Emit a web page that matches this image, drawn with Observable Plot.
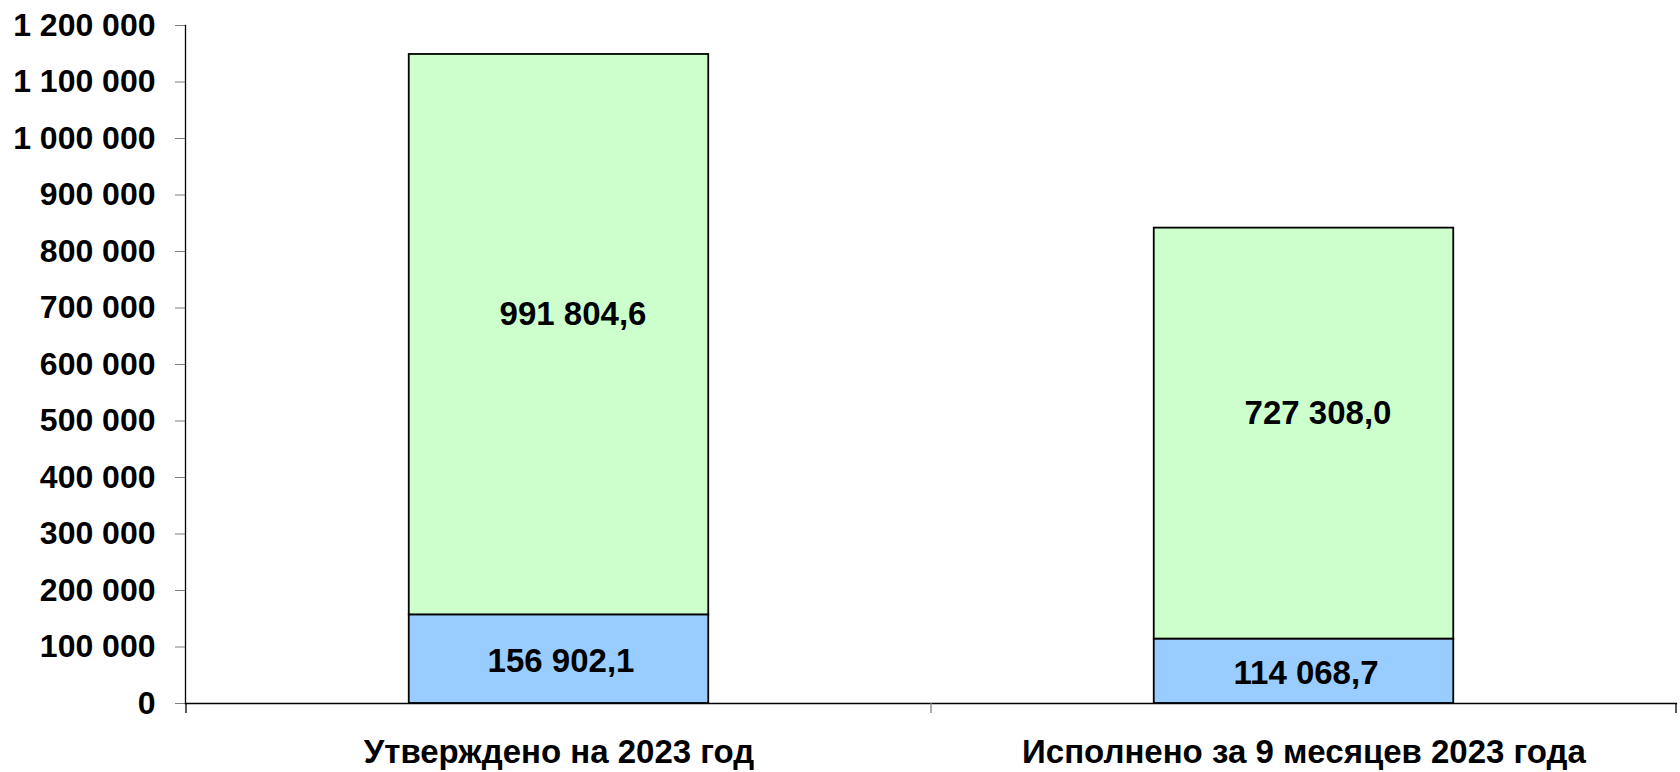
<!DOCTYPE html>
<html>
<head>
<meta charset="utf-8">
<script src="https://cdn.jsdelivr.net/npm/d3@7"></script>
<script src="https://cdn.jsdelivr.net/npm/@observablehq/plot@0.6"></script>
<style>
  html, body { margin: 0; padding: 0; background: #fff; }
  #chart { width: 1680px; height: 772px; }
  svg { font-family: "Liberation Sans", Arial, sans-serif; }
</style>
</head>
<body>
<div id="chart"></div>
<script>
const categories = ["Утверждено на 2023 год", "Исполнено за 9 месяцев 2023 года"];
const seriesNames = ["part1", "part2"];
const part1Values = [156902.1, 114068.7];
const part2Values = [991804.6, 727308.0];
const yTicks = [0, 100000, 200000, 300000, 400000, 500000, 600000, 700000, 800000, 900000, 1000000, 1100000, 1200000];

const seriesColors = {part1: "#99CCFF", part2: "#CCFFCC"};

const data = [];
categories.forEach((c, i) => {
  data.push({cat: c, series: seriesNames[0], value: part1Values[i]});
  data.push({cat: c, series: seriesNames[1], value: part2Values[i]});
});

const loc = d3.formatLocale({decimal: ",", thousands: "\u00a0", grouping: [3], currency: ["", ""]});
const fmtTick = loc.format(",.0f");
const fmtVal = loc.format(",.1f");

const W = 1680, H = 772;
const mL = 185, mR = 4, mT = 25, mB = 69;
const barWidth = 300;
const stepW = (W - mL - mR) / categories.length;
const inset = (stepW - barWidth) / 2;

const chart = Plot.plot({
  width: W,
  height: H,
  marginLeft: mL,
  marginRight: mR,
  marginTop: mT,
  marginBottom: mB,
  style: {fontFamily: "'Liberation Sans', Arial, sans-serif", background: "#fff"},
  x: {domain: categories, padding: 0, label: null},
  y: {domain: [0, 1200000], label: null},
  color: {domain: seriesNames, range: seriesNames.map(s => seriesColors[s])},
  marks: [
    Plot.barY(data, Plot.stackY({
      x: "cat", y: "value", fill: "series",
      stroke: "#000", strokeWidth: 1.8,
      insetLeft: inset, insetRight: inset
    })),
    Plot.text(data, Plot.stackY({
      x: "cat", y: "value", z: "series",
      text: d => d.series === "part2" ? fmtVal(d.value) : "",
      fontSize: 33, fontWeight: "bold", fill: "#000", dx: 14, dy: -20
    })),
    Plot.text(data, Plot.stackY({
      x: "cat", y: "value", z: "series",
      text: d => d.series === "part1" ? fmtVal(d.value) : "",
      fontSize: 33, fontWeight: "bold", fill: "#000", dx: 2, dy: 2
    })),
    Plot.axisY({
      ticks: yTicks, tickFormat: fmtTick, tickSize: 10, tickPadding: 20,
      stroke: "#808080", fill: "#000", fontSize: 32, fontWeight: "bold", label: null
    }),
    Plot.axisX({
      tickSize: 0, tickPadding: 36, fill: "#000", fontSize: 33, fontWeight: "bold", label: null
    }),
    Plot.frame({anchor: "left", stroke: "#000", strokeWidth: 1.3}),
    Plot.frame({anchor: "bottom", stroke: "#000", strokeWidth: 1.3})
  ]
});

// category boundary tick marks on the x axis, positioned with the plot's x scale
const xs = chart.scale("x");
const ys = chart.scale("y");
const y0 = ys.apply(0);
const bounds = categories.map(c => xs.apply(c)).concat([xs.apply(categories[categories.length - 1]) + xs.step]);
const svg = d3.select(chart);
bounds.forEach((bx, i) => {
  svg.append("line")
    .attr("x1", bx).attr("x2", bx)
    .attr("y1", y0).attr("y2", y0 + 10)
    .attr("stroke", i === 0 || i === bounds.length - 1 ? "#000" : "#808080")
    .attr("stroke-width", 1.3);
});

document.getElementById("chart").appendChild(chart);
</script>
</body>
</html>
